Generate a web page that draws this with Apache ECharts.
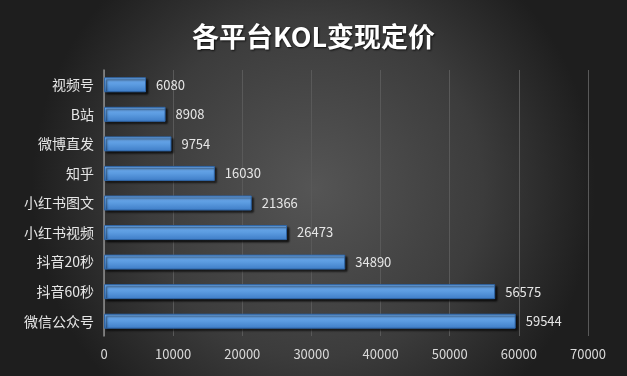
<!DOCTYPE html>
<html>
<head>
<meta charset="utf-8">
<script src="https://cdn.jsdelivr.net/npm/echarts@6/dist/echarts.min.js"></script>
<style>
  html, body { margin: 0; padding: 0; }
  #main { width: 627px; height: 376px; }
</style>
</head>
<body>
<div id="main"></div>
<script>
// data, bottom to top as ECharts draws a category y axis
const platforms = ['微信公众号', '抖音60秒', '抖音20秒', '小红书视频', '小红书图文', '知乎', '微博直发', 'B站', '视频号']
const prices = [59544, 56575, 34890, 26473, 21366, 16030, 9754, 8908, 6080]
const xTicks = { min: 0, max: 70000, interval: 10000 }

const chart = echarts.init(document.getElementById('main'))
chart.setOption({
  backgroundColor: {
    type: 'radial', x: 0.5, y: 0.5, r: 0.75,
    colorStops: [
      { offset: 0, color: '#555555' },
      { offset: 0.6, color: '#3c3c3c' },
      { offset: 1, color: '#1e1e1e' }
    ]
  },
  title: {
    text: '各平台KOL变现定价',
    left: 'center',
    top: 18,
    textStyle: {
      color: '#ffffff',
      fontSize: 27,
      fontWeight: 'bold',
      fontFamily: 'Noto Sans CJK SC',
      textShadowColor: 'rgba(0,0,0,0.8)',
      textShadowBlur: 2,
      textShadowOffsetX: 1,
      textShadowOffsetY: 1
    }
  },
  grid: { left: 104, right: 39, top: 70, bottom: 40 },
  xAxis: {
    type: 'value',
    min: xTicks.min, max: xTicks.max, interval: xTicks.interval,
    axisLine: { show: false },
    axisTick: { show: false },
    splitLine: { lineStyle: { color: '#595959', width: 1 } },
    axisLabel: {
      color: '#d9d9d9', fontSize: 13, margin: 12, fontFamily: 'Noto Sans CJK SC',
      formatter: v => String(v)
    }
  },
  yAxis: {
    type: 'category',
    data: platforms,
    axisLine: { lineStyle: { color: '#8c8c8c', width: 1.5 } },
    axisTick: { show: false },
    axisLabel: { color: '#e6e6e6', fontSize: 14, margin: 10, fontFamily: 'Noto Sans CJK SC' }
  },
  series: [{
    type: 'bar',
    data: prices,
    barWidth: 15,
    itemStyle: {
      color: {
        type: 'linear', x: 0, y: 0, x2: 0, y2: 1,
        colorStops: [
          { offset: 0, color: '#72aef0' },
          { offset: 0.5, color: '#5b9be0' },
          { offset: 1, color: '#3e7cc6' }
        ]
      },
      borderColor: '#2f65a6',
      borderWidth: 1,
      shadowColor: 'rgba(0,0,0,0.7)',
      shadowBlur: 2,
      shadowOffsetX: 2,
      shadowOffsetY: 2
    },
    label: {
      show: true,
      position: 'right',
      distance: 10,
      color: '#e6e6e6',
      fontSize: 13,
      fontFamily: 'Noto Sans CJK SC'
    }
  }]
})
</script>
</body>
</html>
